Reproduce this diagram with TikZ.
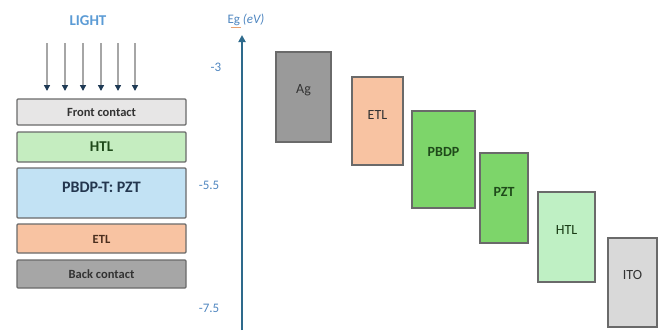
\documentclass[tikz,border=0pt]{standalone}
\usepackage{fontspec}
\setmainfont{Carlito}
\usetikzlibrary{arrows.meta}
\definecolor{lblue}{HTML}{5B9BD5}
\definecolor{tblue}{HTML}{4F86C0}
\definecolor{axisc}{HTML}{2E6A8C}
\definecolor{frontc}{HTML}{E7E6E6}
\definecolor{htlc}{HTML}{C5EDC0}
\definecolor{pzc}{HTML}{C2E2F4}
\definecolor{etlc}{HTML}{F8C3A2}
\definecolor{backc}{HTML}{A6A6A6}
\definecolor{agc}{HTML}{9A9A9A}
\definecolor{greenc}{HTML}{7DD56A}
\definecolor{htl2c}{HTML}{BFF0C4}
\definecolor{itoc}{HTML}{D9D9D9}
\definecolor{edgec}{HTML}{6A6A6A}
\definecolor{dgreen}{HTML}{1F4A1A}
\definecolor{dblue}{HTML}{23364E}
\definecolor{dbrown}{HTML}{4A2E1E}
\definecolor{navy}{HTML}{1F3A55}
\definecolor{ulc}{HTML}{E8A070}
\begin{document}
\begin{tikzpicture}[x=1pt,y=-1pt,
  layer/.style={draw=edgec, line width=1.2pt, rounded corners=1pt},
  band/.style={draw=edgec, line width=1.2pt},
  ltxt/.style={font=\fontsize{12.5}{14}\selectfont\bfseries, text=black!80},
  btxt/.style={font=\fontsize{14}{16}\selectfont, text=black!80},
  tick/.style={font=\fontsize{13}{15}\selectfont, text=tblue},
  ray/.style={draw=gray!70, line width=1.3pt, -{Triangle[length=6pt,width=6pt,color=navy,fill=navy]}}]
\useasboundingbox (0,0) rectangle (661,330);
% light
\node[font=\fontsize{15}{18}\selectfont\bfseries, text=lblue] (light) at (88,21) {LIGHT};
\foreach \i/\x in {1/47,2/65,3/83,4/101,5/118,6/135}{
  \coordinate (s\i) at (\x,43);
  \coordinate (e\i) at (\x,91);
  \draw[ray] (s\i) -- (e\i);
}
% stack
\draw[layer, fill=frontc] (17,99) rectangle (186,125);
\node[ltxt] (front) at (101.5,112) {Front contact};
\draw[layer, fill=htlc] (17,132) rectangle (186,162);
\node[ltxt, font=\fontsize{15}{17}\selectfont\bfseries, text=dgreen] (htl) at (101.5,147) {HTL};
\draw[layer, fill=pzc] (17,168) rectangle (186,218);
\node[ltxt, font=\fontsize{16}{18}\selectfont\bfseries, text=dblue] (pbdpt) at (101.5,187) {PBDP-T: PZT};
\draw[layer, fill=etlc] (17,224) rectangle (186,253);
\node[ltxt, text=dbrown] (etl) at (101.5,239) {ETL};
\draw[layer, fill=backc] (17,260) rectangle (186,288);
\node[ltxt] (back) at (101.5,274) {Back contact};
% axis
\coordinate (ax0) at (242,330);
\coordinate (ax1) at (242,35);
\draw[axisc, line width=1.8pt, -{Triangle[length=7pt,width=7pt]}] (ax0) -- (ax1);
\node[font=\fontsize{13}{15}\selectfont, text=tblue] (eg) at (246,20) {Eg \textit{(eV)}};
\coordinate (ul0) at (230.5,27.5);
\coordinate (ul1) at (241,27.5);
\draw[ulc, line width=0.8pt] (ul0) -- (ul1);
\node[tick] (t3) at (216,67) {-3};
\node[tick] (t55) at (209,185) {-5.5};
\node[tick] (t75) at (209,308) {-7.5};
% bands
\draw[band, fill=agc] (276,52) rectangle (331,142);
\node[btxt] (ag) at (303.5,90) {Ag};
\draw[band, fill=etlc] (352,77) rectangle (403,165);
\node[btxt] (etlb) at (377.5,115) {ETL};
\draw[band, fill=greenc] (412,111) rectangle (475,208);
\node[btxt, font=\fontsize{14}{16}\selectfont\bfseries, text=dgreen] (pbdp) at (443.5,152) {PBDP};
\draw[band, fill=greenc] (480,153) rectangle (528,243);
\node[btxt, font=\fontsize{14}{16}\selectfont\bfseries, text=dgreen] (pzt) at (504,192) {PZT};
\draw[band, fill=htl2c] (538,192) rectangle (595,282);
\node[btxt, text=dgreen!80!black] (htlb) at (566.5,230) {HTL};
\draw[band, fill=itoc] (608,238) rectangle (657,327);
\node[btxt] (ito) at (632.5,275) {ITO};
\end{tikzpicture}
\end{document}
